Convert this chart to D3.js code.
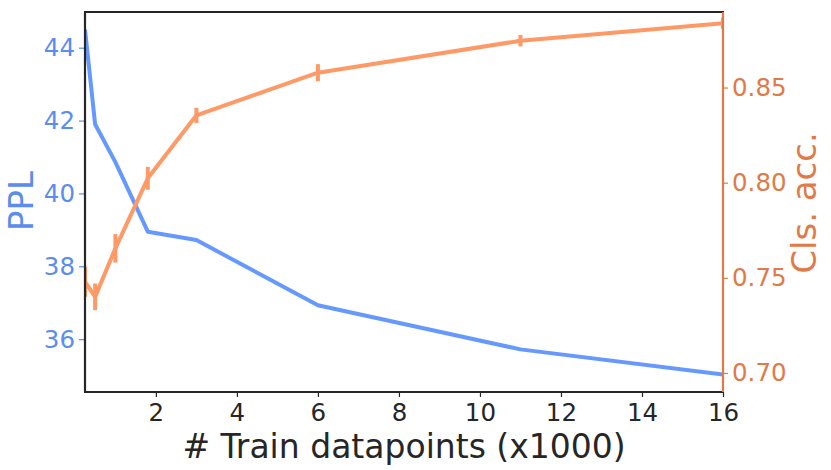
<!DOCTYPE html>
<html>
<head>
<meta charset="utf-8">
<script src="https://cdn.jsdelivr.net/npm/d3@7"></script>
<style>
  html, body { margin: 0; padding: 0; background: #fff; }
  svg { display: block; font-family: "DejaVu Sans", sans-serif; }
</style>
</head>
<body>
<svg id="chart" width="831" height="470"></svg>
<script>
// ---- data ----
const trainSizes = [0.25, 0.5, 1, 1.8, 3, 6, 11, 16];           // x1000 datapoints
const pplValues  = [44.5, 41.9, 40.86, 38.95, 38.72, 36.93, 35.72, 35.03];
const accValues  = [0.748, 0.740, 0.7655, 0.8023, 0.8354, 0.8578, 0.8746, 0.8838];
const accErrors  = [0.008, 0.007, 0.0075, 0.006, 0.004, 0.0045, 0.003, 0.003];
const xTicks     = [2, 4, 6, 8, 10, 12, 14, 16];
const pplTicks   = [36, 38, 40, 42, 44];
const accTicks   = [0.70, 0.75, 0.80, 0.85];
const xLabel     = "# Train datapoints (x1000)";
const pplLabel   = "PPL";
const accLabel   = "Cls. acc.";

// ---- layout ----
const W = 831, H = 470;
const m = { left: 85, right: 831 - 723, top: 12, bottom: 470 - 392 };
const pw = W - m.left - m.right, ph = H - m.top - m.bottom;

const blueLine = "#6699ff", blueAxis = "#5a8dee";
const orangeLine = "#ff9966", orangeAxis = "#e07a48";
const spineColor = "#262626";

const svg = d3.select("#chart");
const g = svg.append("g").attr("transform", `translate(${m.left},${m.top})`);

const x = d3.scaleLinear().domain([0.25, 16]).range([0, pw]);
const yPPL = d3.scaleLinear().domain([34.55, 44.98]).range([ph, 0]);
const yAcc = d3.scaleLinear().domain([0.690, 0.8897]).range([ph, 0]);

svg.append("defs").append("clipPath").attr("id", "clip")
  .append("rect").attr("x", 0).attr("y", 0).attr("width", pw).attr("height", ph);

// PPL line
const plot = g.append("g").attr("clip-path", "url(#clip)");
plot.append("path")
  .datum(trainSizes.map((d, i) => [d, pplValues[i]]))
  .attr("fill", "none").attr("stroke", blueLine).attr("stroke-width", 4)
  .attr("stroke-linejoin", "round")
  .attr("d", d3.line().x(d => x(d[0])).y(d => yPPL(d[1])));

// accuracy line + error bars
const accData = trainSizes.map((d, i) => ({ x: d, y: accValues[i], e: accErrors[i] }));
plot.append("path")
  .datum(accData)
  .attr("fill", "none").attr("stroke", orangeLine).attr("stroke-width", 4)
  .attr("stroke-linejoin", "round")
  .attr("d", d3.line().x(d => x(d.x)).y(d => yAcc(d.y)));
plot.selectAll("line.err").data(accData).join("line")
  .attr("class", "err")
  .attr("x1", d => x(d.x)).attr("x2", d => x(d.x))
  .attr("y1", d => yAcc(d.y - d.e)).attr("y2", d => yAcc(d.y + d.e))
  .attr("stroke", orangeLine).attr("stroke-width", 4);

// ---- axes ----
const tickFont = "24.5px";

const xAxis = g.append("g").attr("transform", `translate(0,${ph})`)
  .call(d3.axisBottom(x).tickValues(xTicks).tickFormat(d3.format("d")).tickSize(5).tickPadding(7));
xAxis.select(".domain").remove();
xAxis.selectAll(".tick line").attr("stroke", spineColor).attr("stroke-width", 1.2);
xAxis.selectAll(".tick text").attr("fill", spineColor).style("font-size", tickFont)
  .style("font-family", "DejaVu Sans");

const yAxisL = g.append("g")
  .call(d3.axisLeft(yPPL).tickValues(pplTicks).tickFormat(d3.format("d")).tickSize(6).tickPadding(4));
yAxisL.select(".domain").remove();
yAxisL.selectAll(".tick line").attr("stroke", blueAxis).attr("stroke-width", 1.2);
yAxisL.selectAll(".tick text").attr("fill", blueAxis).style("font-size", tickFont)
  .style("font-family", "DejaVu Sans");

const yAxisR = g.append("g").attr("transform", `translate(${pw},0)`)
  .call(d3.axisRight(yAcc).tickValues(accTicks).tickFormat(d3.format(".2f")).tickSize(5).tickPadding(4));
yAxisR.select(".domain").remove();
yAxisR.selectAll(".tick line").attr("stroke", orangeAxis).attr("stroke-width", 1.2);
yAxisR.selectAll(".tick text").attr("fill", orangeAxis).style("font-size", tickFont)
  .style("font-family", "DejaVu Sans");

// spines
g.append("line").attr("x1", 0).attr("x2", 0).attr("y1", 0).attr("y2", ph)
  .attr("stroke", spineColor).attr("stroke-width", 2.2);
g.append("line").attr("x1", -1).attr("x2", pw + 1).attr("y1", 0).attr("y2", 0)
  .attr("stroke", spineColor).attr("stroke-width", 2.2);
g.append("line").attr("x1", -1).attr("x2", pw + 1).attr("y1", ph).attr("y2", ph)
  .attr("stroke", spineColor).attr("stroke-width", 2.2);
g.append("line").attr("x1", pw).attr("x2", pw).attr("y1", 0).attr("y2", ph)
  .attr("stroke", orangeAxis).attr("stroke-width", 2.2);

// axis labels
svg.append("text")
  .attr("x", 404).attr("y", 458)
  .attr("text-anchor", "middle").attr("fill", spineColor)
  .style("font-size", "33px").style("font-family", "DejaVu Sans")
  .text(xLabel);

svg.append("text")
  .attr("transform", `translate(33,201) rotate(-90)`)
  .attr("text-anchor", "middle").attr("fill", blueAxis)
  .style("font-size", "34px").style("font-family", "DejaVu Sans")
  .text(pplLabel);

svg.append("text")
  .attr("transform", `translate(816,203) rotate(-90)`)
  .attr("text-anchor", "middle").attr("fill", orangeAxis)
  .style("font-size", "34px").style("font-family", "DejaVu Sans")
  .text(accLabel);
</script>
</body>
</html>
